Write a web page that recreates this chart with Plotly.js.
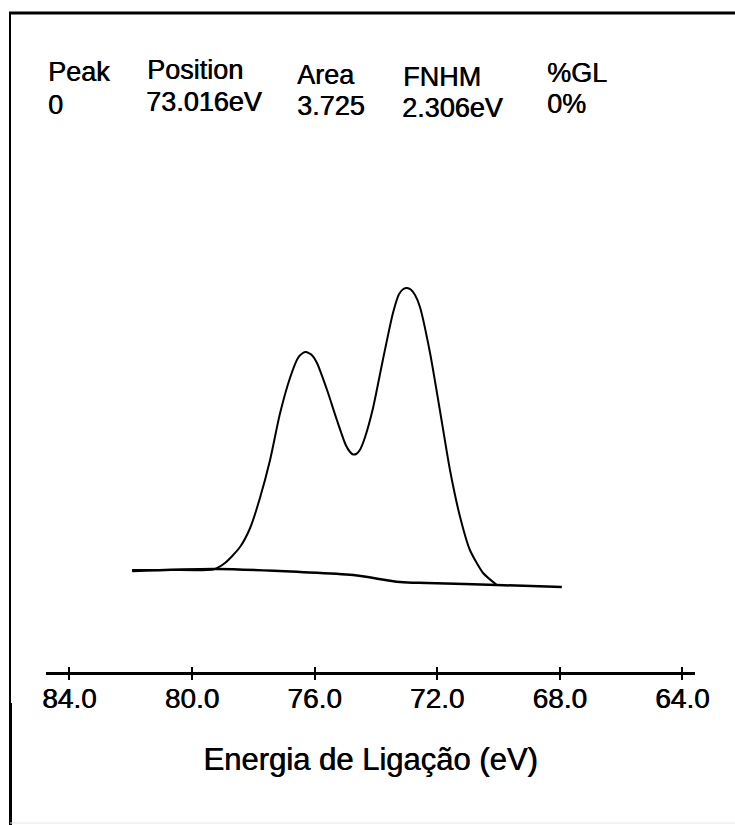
<!DOCTYPE html>
<html>
<head>
<meta charset="utf-8">
<script src="https://cdn.plot.ly/plotly-3.0.1.min.js"></script>
<style>
  html, body { margin: 0; padding: 0; background: #ffffff; }
  #chart { width: 735px; height: 825px; }
</style>
</head>
<body>
<div id="chart"></div>
<script>
// ---- data ----
var envelopeEnergy = [81.95, 80.71, 79.31, 78.92, 78.43, 78.10, 77.78, 77.45, 77.13, 76.80, 76.54, 76.38, 76.28, 76.09, 75.92, 75.59, 75.27, 74.98, 74.84, 74.74, 74.64, 74.52, 74.36, 74.09, 73.77, 73.44, 73.24, 73.10, 72.98, 72.86, 72.72, 72.56, 72.23, 71.91, 71.58, 71.25, 70.93, 70.50, 70.05];
var envelopeIntensity = [30, 30, 30.5, 37, 53, 72, 102, 140, 186, 222, 242, 247, 248, 245, 237, 210, 180, 155, 148, 145.5, 146, 150, 162, 192, 240, 287, 306, 311, 312, 310.5, 305, 293, 247, 190, 130, 83, 50, 27, 15];
var backgroundEnergy = [81.95, 79.18, 76.47, 74.74, 73.21, 72.33, 70.05, 67.93];
var backgroundIntensity = [29, 31, 28, 25, 18, 17, 15, 13];
var tickValues = [84, 80, 76, 72, 68, 64];
var tickLabels = ['84.0', '80.0', '76.0', '72.0', '68.0', '64.0'];
var headerLabels = ['Peak', 'Position', 'Area', 'FNHM', '%GL'];
var headerValues = ['0', '73.016eV', '3.725', '2.306eV', '0%'];
var xTitle = 'Energia de Ligação (eV)';

// ---- layout geometry (pixels) ----
var W = 735, H = 825;
var mL = 46, mR = 40, mT = 150, mB = 153;
var pw = W - mL - mR, ph = H - mT - mB;
function px(x) { return (x - mL) / pw; }
function py(y) { return (H - mB - y) / ph; }

var headerX = [46, 145, 295, 401, 545];
var valueX = [46, 144, 295, 400, 545];
var headerLabelY = [72, 70, 75, 77, 73];
var headerValueY = [105, 102, 106, 108, 104];

var font = 'Arial, "Liberation Sans", Helvetica, sans-serif';
var heavy = '0.6px 0 0 #000';

var annotations = [];
for (var i = 0; i < headerLabels.length; i++) {
  annotations.push({ xref: 'paper', yref: 'paper', x: px(headerX[i]), y: py(headerLabelY[i]),
    xanchor: 'left', yanchor: 'middle', text: headerLabels[i], showarrow: false,
    font: { family: font, size: 27, color: '#000', shadow: heavy } });
  annotations.push({ xref: 'paper', yref: 'paper', x: px(valueX[i]), y: py(headerValueY[i]),
    xanchor: 'left', yanchor: 'middle', text: headerValues[i], showarrow: false,
    font: { family: font, size: 27, color: '#000', shadow: heavy } });
}

var traces = [
  { x: backgroundEnergy, y: backgroundIntensity, type: 'scatter', mode: 'lines',
    line: { color: '#000', width: 2.5, shape: 'spline', smoothing: 0.8 }, hoverinfo: 'skip', showlegend: false },
  { x: envelopeEnergy, y: envelopeIntensity, type: 'scatter', mode: 'lines',
    line: { color: '#000', width: 2, shape: 'spline', smoothing: 0.6 }, hoverinfo: 'skip', showlegend: false },
  { x: [tickValues[0]], y: [null], xaxis: 'x2', type: 'scatter', mode: 'lines', hoverinfo: 'skip', showlegend: false }
];

var pxPerEv = 30.65, x84 = 69.3;
var xr = [84 + (x84 - mL) / pxPerEv, 84 - (W - mR - x84) / pxPerEv];

var layout = {
  width: W, height: H,
  margin: { l: mL, r: mR, t: mT, b: mB },
  paper_bgcolor: '#ffffff', plot_bgcolor: '#ffffff',
  showlegend: false,
  xaxis: {
    range: xr, tickmode: 'array', tickvals: tickValues, ticktext: tickLabels,
    showgrid: false, zeroline: false, showline: true, linecolor: '#000', linewidth: 3,
    ticks: 'outside', ticklen: 5, tickwidth: 2, tickcolor: '#000',
    ticklabelstandoff: -6,
    tickfont: { family: font, size: 28, color: '#000', shadow: heavy },
    title: { text: xTitle, font: { family: font, size: 31, color: '#000', shadow: heavy }, standoff: 36 }
  },
  xaxis2: {
    overlaying: 'x', matches: 'x', range: xr, tickmode: 'array', tickvals: tickValues,
    showticklabels: false, showgrid: false, zeroline: false, showline: false,
    ticks: 'inside', ticklen: 5, tickwidth: 2, tickcolor: '#000', side: 'bottom', anchor: 'y'
  },
  yaxis: { range: [-72, 450], visible: false, showgrid: false, zeroline: false },
  annotations: annotations,
  shapes: [
    { type: 'line', xref: 'paper', yref: 'paper', x0: px(9), x1: px(735), y0: py(13), y1: py(13),
      line: { color: '#000', width: 3 } },
    { type: 'line', xref: 'paper', yref: 'paper', x0: px(10), x1: px(10), y0: py(12), y1: py(704),
      line: { color: '#000', width: 2 } },
    { type: 'line', xref: 'paper', yref: 'paper', x0: px(10.5), x1: px(10.5), y0: py(703), y1: py(825),
      line: { color: '#000', width: 3 } },
    { type: 'line', xref: 'paper', yref: 'paper', x0: px(10), x1: px(735), y0: py(823), y1: py(823),
      line: { color: '#e6e6e6', width: 1 } }
  ]
};

Plotly.newPlot('chart', traces, layout, { staticPlot: true, displayModeBar: false });
</script>
</body>
</html>
